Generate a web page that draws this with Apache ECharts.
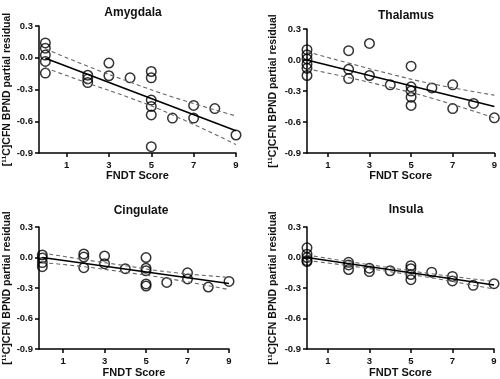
<!DOCTYPE html>
<html>
<head>
<meta charset="utf-8">
<script src="https://cdn.jsdelivr.net/npm/echarts@6/dist/echarts.min.js"></script>
<style>html,body{margin:0;padding:0;background:#fff}#c{width:500px;height:379px}</style>
</head>
<body>
<div id="c"></div>
<script>
// ---- data ----
const panelTitles = ['Amygdala', 'Thalamus', 'Cingulate', 'Insula'];
const xTickValues = [1, 3, 5, 7, 9];
const yTickLabels = ['-0.9', '-0.6', '-0.3', '0.0', '0.3'];
const xAxisTitle = 'FNDT Score';
const yAxisTitle = '[¹¹C]CFN BPND partial residual';

const amygdalaX = [0,0,0,0,0,2,2,2,3,3,4,5,5,5,5,5,5,6,7,7,8,9];
const amygdalaY = [0.14,0.09,0.025,-0.035,-0.145,-0.165,-0.2,-0.235,-0.05,-0.17,-0.19,-0.13,-0.19,-0.40,-0.46,-0.54,-0.84,-0.57,-0.45,-0.57,-0.48,-0.73];
const amygdalaFitX = [0, 9];
const amygdalaFitY = [-0.005, -0.69];
const amygdalaCiX = [0, 2, 4, 6, 9];
const amygdalaCiUpper = [0.085, -0.08, -0.23, -0.37, -0.55];
const amygdalaCiLower = [-0.095, -0.24, -0.38, -0.54, -0.82];

const thalamusX = [0,0,0,0,0,0,2,2,2,3,3,4,5,5,5,5,5,6,7,7,8,9];
const thalamusY = [0.10,0.05,0.01,-0.04,-0.08,-0.15,0.09,-0.09,-0.18,0.16,-0.15,-0.24,-0.06,-0.26,-0.30,-0.36,-0.44,-0.27,-0.24,-0.47,-0.42,-0.56];
const thalamusFitX = [0, 9];
const thalamusFitY = [0.0, -0.45];
const thalamusCiX = [0, 2, 4, 6, 9];
const thalamusCiUpper = [0.08, -0.03, -0.135, -0.23, -0.34];
const thalamusCiLower = [-0.085, -0.17, -0.265, -0.37, -0.56];

const cingulateX = [0,0,0,0,2,2,2,3,3,4,5,5,5,5,5,6,7,7,8,9];
const cingulateY = [0.025,-0.005,-0.05,-0.09,0.035,0.005,-0.10,0.015,-0.06,-0.11,0.0,-0.105,-0.13,-0.26,-0.28,-0.245,-0.15,-0.21,-0.29,-0.235];
const cingulateFitX = [0, 9];
const cingulateFitY = [0.0, -0.255];
const cingulateCiX = [0, 2, 4, 6, 9];
const cingulateCiUpper = [0.045, -0.02, -0.08, -0.14, -0.195];
const cingulateCiLower = [-0.05, -0.09, -0.145, -0.205, -0.315];

const insulaX = [0,0,0,0,0,2,2,2,3,3,4,5,5,5,5,6,7,7,8,9];
const insulaY = [0.095,0.033,0.0,-0.03,-0.04,-0.047,-0.073,-0.118,-0.105,-0.138,-0.13,-0.08,-0.11,-0.167,-0.218,-0.144,-0.186,-0.23,-0.273,-0.257];
const insulaFitX = [0, 9];
const insulaFitY = [0.0, -0.27];
const insulaCiX = [0, 2, 4, 6, 9];
const insulaCiUpper = [0.025, -0.04, -0.1, -0.16, -0.235];
const insulaCiLower = [-0.03, -0.08, -0.14, -0.2, -0.31];

// ---- layout ----
const zip = (a, b) => a.map((v, i) => [v, b[i]]);
const panels = [
  {title: panelTitles[0], x: amygdalaX, y: amygdalaY, fx: amygdalaFitX, fy: amygdalaFitY, cx: amygdalaCiX, cu: amygdalaCiUpper, cl: amygdalaCiLower},
  {title: panelTitles[1], x: thalamusX, y: thalamusY, fx: thalamusFitX, fy: thalamusFitY, cx: thalamusCiX, cu: thalamusCiUpper, cl: thalamusCiLower},
  {title: panelTitles[2], x: cingulateX, y: cingulateY, fx: cingulateFitX, fy: cingulateFitY, cx: cingulateCiX, cu: cingulateCiUpper, cl: cingulateCiLower},
  {title: panelTitles[3], x: insulaX, y: insulaY, fx: insulaFitX, fy: insulaFitY, cx: insulaCiX, cu: insulaCiUpper, cl: insulaCiLower}
];
const gridPos = [
  {left: 39, top: 26, width: 197, height: 127},
  {left: 307, top: 29, width: 188, height: 124},
  {left: 39, top: 227, width: 190, height: 125},
  {left: 307, top: 227, width: 187, height: 125}
];
const xMins = [-0.3, 0, -0.16, 0];
const titlePos = [[128, 2], [401, 5], [136, 200], [401, 199]];
const yNameGap = [20, 28, 20, 28];

const FONT = '"Liberation Sans", Arial, sans-serif';
const option = {
  animation: false,
  backgroundColor: '#fff',
  title: panels.map((p, i) => ({
    text: p.title, left: titlePos[i][0], top: titlePos[i][1], textAlign: 'center',
    textStyle: {fontFamily: FONT, fontWeight: 'bold', fontSize: 12, color: '#111'}
  })),
  grid: gridPos.map(g => Object.assign({containLabel: false}, g)),
  xAxis: panels.map((p, i) => ({
    type: 'value', gridIndex: i, min: xMins[i], max: 9,
    name: xAxisTitle, nameLocation: 'middle', nameGap: 17,
    nameTextStyle: {fontFamily: FONT, fontWeight: 'bold', fontSize: 11, color: '#111'},
    axisLine: {show: true, onZero: false, lineStyle: {color: '#000', width: 1.5}},
    axisTick: {show: true, customValues: xTickValues, length: 4, lineStyle: {color: '#000', width: 1.5}},
    axisLabel: {customValues: xTickValues, margin: 7, fontFamily: FONT, fontWeight: 'bold', fontSize: 9.5, color: '#111'},
    splitLine: {show: false}
  })),
  yAxis: panels.map((p, i) => ({
    type: 'value', gridIndex: i, min: -0.9, max: 0.3, interval: 0.3,
    name: yAxisTitle, nameLocation: 'middle', nameGap: yNameGap[i], nameRotate: 90,
    nameTextStyle: {fontFamily: FONT, fontWeight: 'bold', fontSize: 10.5, color: '#111'},
    axisLine: {show: true, onZero: false, lineStyle: {color: '#000', width: 1.5}},
    axisTick: {show: true, length: 4, lineStyle: {color: '#000', width: 1.5}},
    axisLabel: {margin: 6, fontFamily: FONT, fontWeight: 'bold', fontSize: 9.5, color: '#111',
      formatter: v => yTickLabels[Math.round((v + 0.9) / 0.3)]},
    splitLine: {show: false}
  })),
  series: panels.flatMap((p, i) => [
    {type: 'line', xAxisIndex: i, yAxisIndex: i, data: zip(p.cx, p.cu), smooth: true, showSymbol: false, silent: true,
      lineStyle: {color: '#666', width: 1.1, type: [4, 3]}},
    {type: 'line', xAxisIndex: i, yAxisIndex: i, data: zip(p.cx, p.cl), smooth: true, showSymbol: false, silent: true,
      lineStyle: {color: '#666', width: 1.1, type: [4, 3]}},
    {type: 'line', xAxisIndex: i, yAxisIndex: i, data: zip(p.fx, p.fy), showSymbol: false, silent: true,
      lineStyle: {color: '#000', width: 1.6}},
    {type: 'scatter', xAxisIndex: i, yAxisIndex: i, data: zip(p.x, p.y), symbol: 'circle', symbolSize: 9.5,
      clip: false, itemStyle: {color: 'rgba(255,255,255,0)', borderColor: '#000', borderWidth: 1.5}}
  ])
};
const chart = echarts.init(document.getElementById('c'), null, {renderer: 'canvas'});
chart.setOption(option);
</script>
</body>
</html>
